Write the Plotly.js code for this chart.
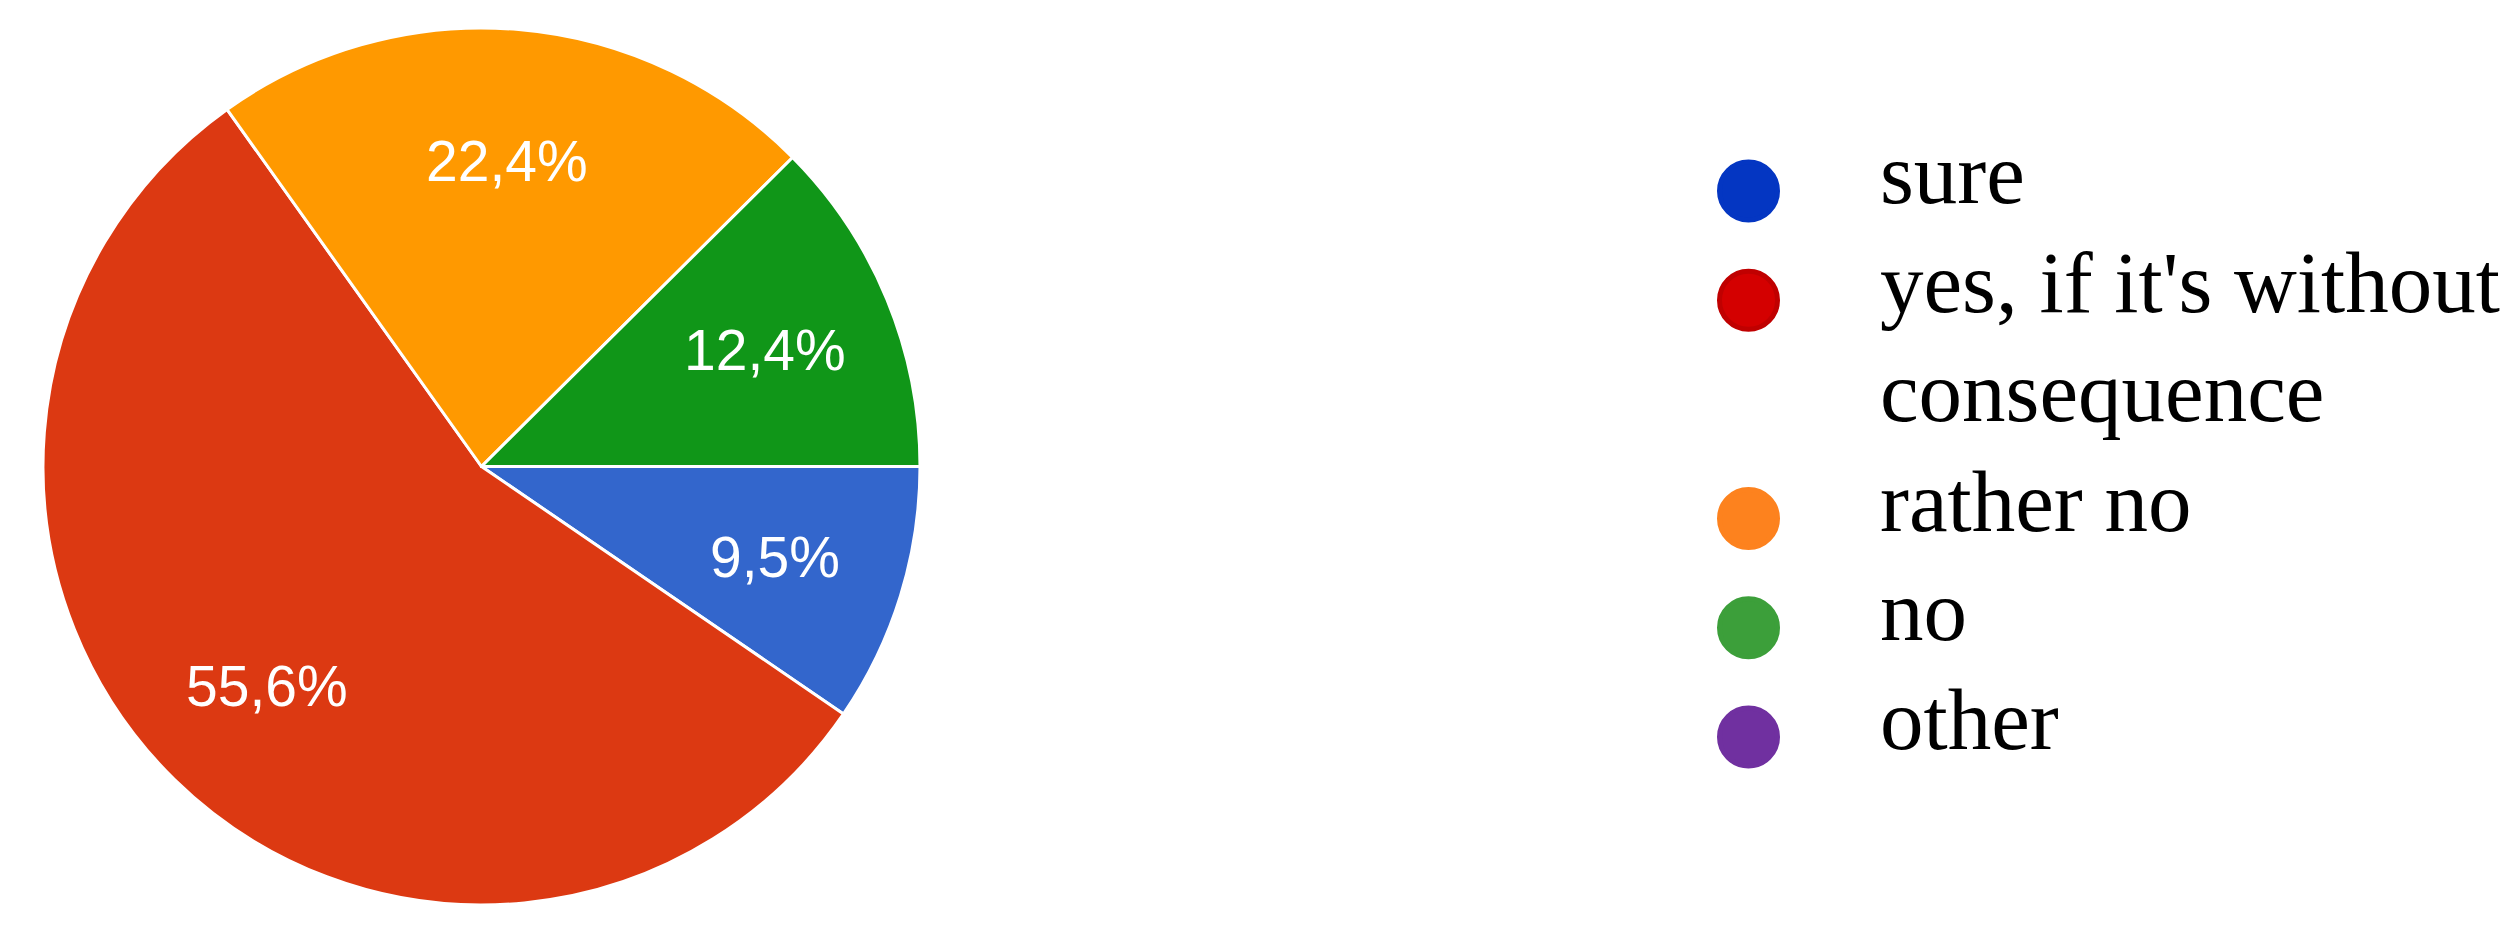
<!DOCTYPE html>
<html>
<head>
<meta charset="utf-8">
<script src="https://cdn.plot.ly/plotly-3.0.1.min.js"></script>
<style>html,body{margin:0;padding:0;background:#fff;}#chart{width:2506px;height:942px;}</style>
</head>
<body>
<div id="chart"></div>
<script>
// ---- data (answer counts, n = 241) ----
const categories = ['sure', "yes, if it's without consequence", 'rather no', 'no', 'other'];
const counts = [23, 134, 54, 30, 0];
const sliceColors = ['#3366cc', '#dc3912', '#ff9900', '#109618', '#990099'];
// legend (drawn as in the source image, with its own colours and wrapped text)
const legendLabels = ['sure', "yes, if it's without<br>consequence", 'rather no', 'no', 'other'];
const legendColors = ['#0436c2', '#d40000', '#fd821e', '#3c9f3a', '#7030a0'];
const legendEdge = ['#0436c2', '#c00000', '#fd821e', '#3c9f3a', '#7030a0'];

const W = 2506, H = 942;
const LABEL_RADIUS = 0.70; // label distance from centre, as a fraction of the pie radius

// ---- slice label annotations derived from the values ----
const total = counts.reduce(function (a, b) { return a + b; }, 0);
const sliceAnnotations = [];
let cum = 0;
counts.forEach(function (v) {
  if (v > 0) {
    const a = 2 * Math.PI * (cum + v / 2) / total; // clockwise from 3 o'clock
    sliceAnnotations.push({
      xref: 'x2', yref: 'y2',
      x: LABEL_RADIUS * Math.cos(a),
      y: -LABEL_RADIUS * Math.sin(a),
      text: (100 * v / total).toFixed(1).replace('.', ',') + '%',
      showarrow: false,
      xanchor: 'center', yanchor: 'middle',
      font: { family: 'Liberation Sans, Arial, sans-serif', size: 57, color: '#ffffff' }
    });
  }
  cum += v;
});

// ---- legend rows derived from wrapped labels ----
const markerRows = [];
const textRows = [];
const textLines = [];
let row = 0;
legendLabels.forEach(function (lab) {
  markerRows.push(row);
  lab.split('<br>').forEach(function (line) {
    textRows.push(row - 0.09);
    textLines.push(line);
    row += 1;
  });
});

const pieDomX = [43 / W, 920 / W];
const pieDomY = [1 - 905 / H, 1 - 28 / H];

const pie = {
  type: 'pie',
  labels: categories,
  values: counts,
  sort: false,
  direction: 'clockwise',
  rotation: 90,
  marker: { colors: sliceColors, line: { color: '#ffffff', width: 3 } },
  textinfo: 'none',
  domain: { x: pieDomX, y: pieDomY },
  showlegend: false,
  hoverinfo: 'label+percent'
};

const legendMarkers = {
  type: 'scatter',
  mode: 'markers',
  x: markerRows.map(function () { return 0; }),
  y: markerRows,
  marker: { size: 58, color: legendColors, line: { color: legendEdge, width: 5 } },
  xaxis: 'x', yaxis: 'y',
  showlegend: false,
  hoverinfo: 'skip'
};

const legendText = {
  type: 'scatter',
  mode: 'text',
  x: textRows.map(function () { return 1; }),
  y: textRows,
  text: textLines,
  textposition: 'middle right',
  textfont: { family: 'Liberation Serif, Times New Roman, serif', size: 87, color: '#000000' },
  xaxis: 'x', yaxis: 'y',
  showlegend: false,
  hoverinfo: 'skip'
};

// invisible anchor so the pie-overlay axes exist
const overlayAnchor = {
  type: 'scatter', mode: 'markers', x: [0], y: [0],
  marker: { size: 1, opacity: 0 },
  xaxis: 'x2', yaxis: 'y2', showlegend: false, hoverinfo: 'skip'
};

const layout = {
  width: W, height: H,
  margin: { l: 0, r: 0, t: 0, b: 0, pad: 0 },
  paper_bgcolor: '#ffffff',
  plot_bgcolor: 'rgba(0,0,0,0)',
  showlegend: false,
  xaxis: { domain: [1700 / W, 1], range: [-48.5 / 131.5, (806 - 48.5) / 131.5], visible: false, fixedrange: true },
  yaxis: { domain: [0, 1], range: [(942 - 191) / 109.2, -191 / 109.2], visible: false, fixedrange: true },
  xaxis2: { domain: pieDomX, range: [-1, 1], visible: false, fixedrange: true, anchor: 'y2' },
  yaxis2: { domain: pieDomY, range: [-1, 1], visible: false, fixedrange: true, anchor: 'x2' },
  annotations: sliceAnnotations
};

Plotly.newPlot('chart', [pie, overlayAnchor, legendMarkers, legendText], layout, { displayModeBar: false, staticPlot: true });
</script>
</body>
</html>
